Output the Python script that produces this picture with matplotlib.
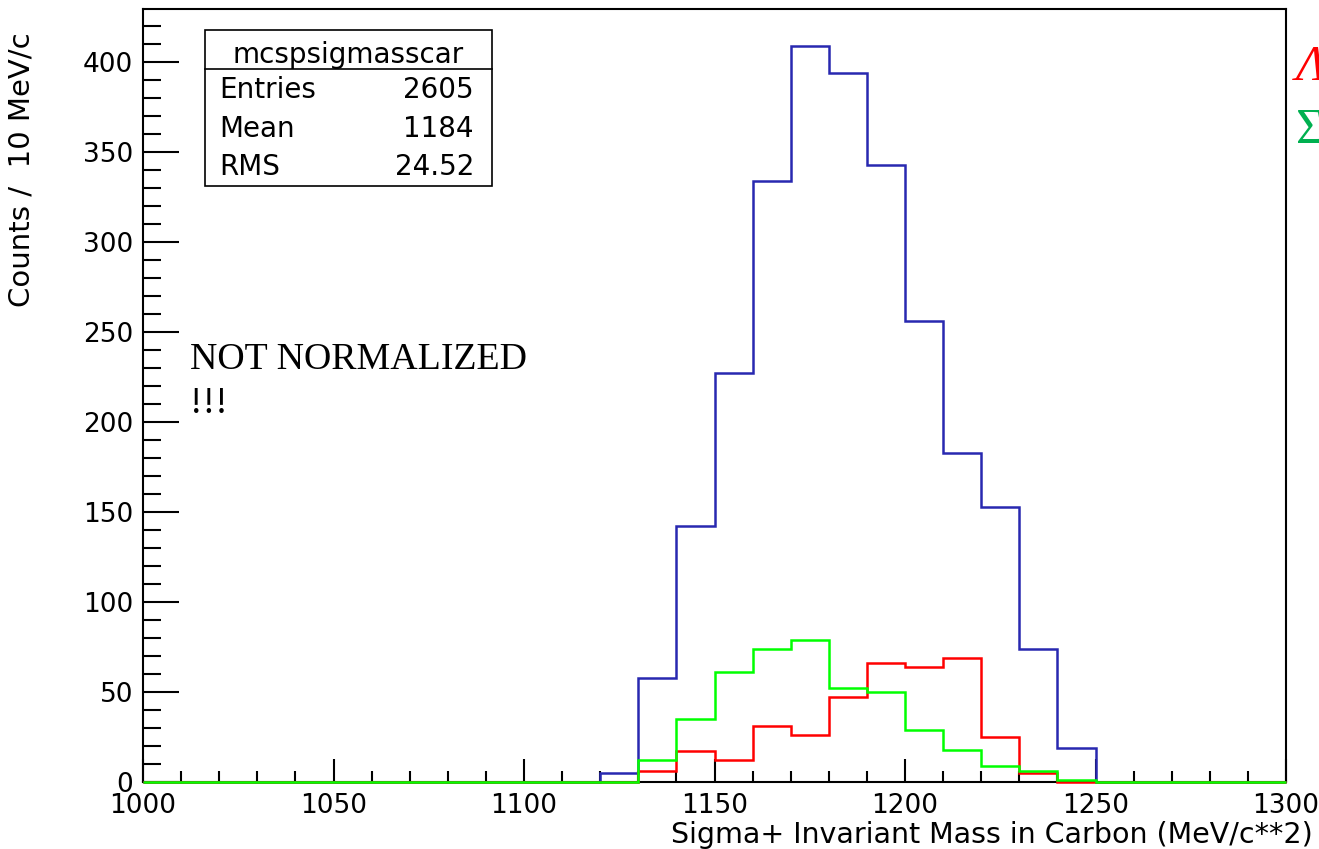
import numpy as np
import matplotlib
matplotlib.use("Agg")
import matplotlib.pyplot as plt
from matplotlib.patches import Rectangle
from matplotlib.lines import Line2D
from matplotlib.ticker import MultipleLocator

# 10 MeV bins from 1000 to 1300
edges = np.arange(1000, 1310, 10)

total = [0, 0, 0, 0, 0, 0, 0, 0, 0, 0, 0, 0, 5, 58, 142, 227, 334, 409,
         394, 343, 256, 183, 153, 74, 19, 0, 0, 0, 0, 0]
lam = [0, 0, 0, 0, 0, 0, 0, 0, 0, 0, 0, 0, 0, 6, 17, 12, 31, 26,
       47, 66, 64, 69, 25, 5, 0, 0, 0, 0, 0, 0]
sig0 = [0, 0, 0, 0, 0, 0, 0, 0, 0, 0, 0, 0, 0, 12, 35, 61, 74, 79,
        52, 50, 29, 18, 9, 6, 1, 0, 0, 0, 0, 0]

stat_names = ["Entries", "Mean", "RMS"]
stat_values = ["2605", "1184", "24.52"]

W, H = 1319, 849


def fx(x):
    return x / W


def fy(y):
    return 1 - y / H


fig = plt.figure(figsize=(W / 100, H / 100), dpi=100)
ax = fig.add_axes([fx(143), fy(782), fx(1286) - fx(143), fy(9) - fy(782)])

ax.stairs(total, edges, baseline=None, color="#2828b0", lw=1.8, zorder=3, clip_on=False)
ax.stairs(lam, edges, baseline=None, color="#ff0000", lw=1.8, zorder=3, clip_on=False)
ax.stairs(sig0, edges, baseline=None, color="#00ff00", lw=1.8, zorder=3, clip_on=False)

ax.set_xlim(1000, 1300)
ax.set_ylim(0, 429.4)
for s in ax.spines.values():
    s.set_linewidth(1.5)

ax.xaxis.set_major_locator(MultipleLocator(50))
ax.xaxis.set_minor_locator(MultipleLocator(10))
ax.yaxis.set_major_locator(MultipleLocator(50))
ax.yaxis.set_minor_locator(MultipleLocator(10))
ax.tick_params(axis="y", which="major", direction="in", length=26, width=1.5,
               labelsize=19, pad=7)
ax.tick_params(axis="y", which="minor", direction="in", length=13, width=1.5)
ax.tick_params(axis="x", which="major", direction="in", length=16.5, width=1.5,
               labelsize=19, pad=8)
ax.tick_params(axis="x", which="minor", direction="in", length=8, width=1.5)
ax.tick_params(top=False, right=False, which="both")

fig.text(fx(22), fy(32), "Counts /  10 MeV/c", rotation=90, ha="center",
         va="top", fontsize=21)
fig.text(fx(1313), fy(849), "Sigma+ Invariant Mass in Carbon (MeV/c**2)",
         ha="right", va="bottom", fontsize=20.5)

# stats box
fig.patches.append(Rectangle((fx(205), fy(186)), fx(492) - fx(205), fy(30) - fy(186),
                             transform=fig.transFigure, fill=True, fc="white",
                             ec="black", lw=1.2, zorder=5))
fig.lines.append(Line2D([fx(205), fx(492)], [fy(69), fy(69)],
                        transform=fig.transFigure, color="black", lw=1.2, zorder=6))
fig.text(fx(348), fy(63), "mcspsigmasscar", ha="center", va="baseline",
         fontsize=20, zorder=7)
for name, val, yb in zip(stat_names, stat_values, [98, 137, 175]):
    fig.text(fx(219), fy(yb), name, ha="left", va="baseline", fontsize=20, zorder=7)
    fig.text(fx(474), fy(yb), val, ha="right", va="baseline", fontsize=20, zorder=7)

fig.text(fx(190), fy(369), "NOT NORMALIZED", family="Liberation Serif",
         fontsize=27.3, ha="left", va="baseline")
fig.text(fx(190), fy(413), "!!!", family="Liberation Serif",
         fontsize=27.3, ha="left", va="baseline")

fig.text(fx(1296), fy(80), "Λ", family="Liberation Serif", style="italic",
         fontsize=36, color="#ff0000", ha="left", va="baseline")
fig.text(fx(1296), fy(143), "Σ", family="Liberation Serif",
         fontsize=36, color="#00b050", ha="left", va="baseline")

fig.savefig("out.png", dpi=100)
plt.close(fig)
